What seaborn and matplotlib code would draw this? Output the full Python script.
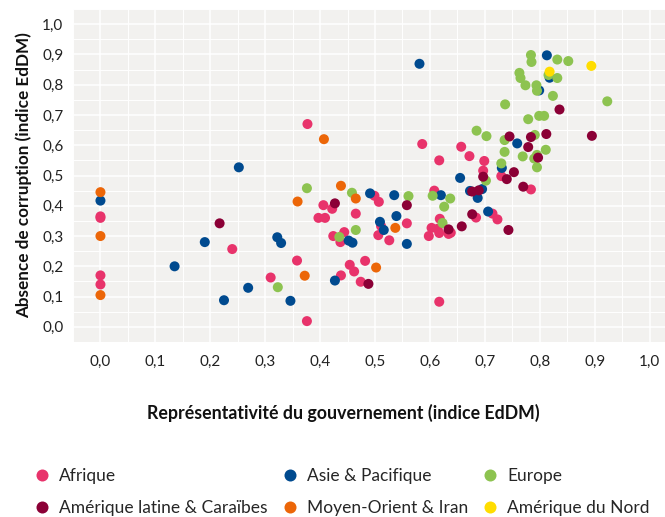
import pandas as pd
import matplotlib.pyplot as plt
import seaborn as sns
from matplotlib.ticker import MultipleLocator, FuncFormatter

# Representativeness (x) and absence of corruption (y) per region
afrique_x = [0.0, 0.0, 0.0, 0.0, 0.24, 0.31, 0.358, 0.376, 0.377, 0.397, 0.409, 0.406,
             0.422, 0.424, 0.437, 0.444, 0.438, 0.465, 0.454, 0.462, 0.474, 0.482, 0.499,
             0.507, 0.558, 0.511, 0.506, 0.526, 0.586, 0.617, 0.657, 0.672, 0.699, 0.697,
             0.608, 0.618, 0.603, 0.614, 0.617, 0.598, 0.634, 0.638, 0.684, 0.714, 0.723,
             0.617, 0.73, 0.784]
afrique_y = [0.36, 0.365, 0.17, 0.14, 0.257, 0.163, 0.219, 0.019, 0.67, 0.36, 0.36, 0.402,
             0.39, 0.30, 0.28, 0.313, 0.17, 0.374, 0.205, 0.183, 0.149, 0.218, 0.433,
             0.413, 0.342, 0.333, 0.303, 0.286, 0.604, 0.55, 0.595, 0.564, 0.548, 0.516,
             0.45, 0.357, 0.327, 0.324, 0.31, 0.30, 0.307, 0.311, 0.361, 0.374, 0.355,
             0.083, 0.498, 0.454]

asie_x = [0.0, 0.135, 0.19, 0.225, 0.252, 0.269, 0.322, 0.329, 0.346, 0.427, 0.452, 0.459,
          0.581, 0.491, 0.535, 0.539, 0.509, 0.516, 0.558, 0.62, 0.655, 0.673, 0.695,
          0.687, 0.706, 0.759, 0.731, 0.799, 0.813, 0.818]
asie_y = [0.417, 0.20, 0.28, 0.088, 0.527, 0.129, 0.296, 0.277, 0.086, 0.153, 0.285, 0.278,
          0.869, 0.441, 0.435, 0.366, 0.347, 0.32, 0.274, 0.435, 0.492, 0.449, 0.455,
          0.426, 0.381, 0.606, 0.525, 0.781, 0.897, 0.823]

europe_x = [0.323, 0.376, 0.435, 0.458, 0.465, 0.561, 0.605, 0.637, 0.626, 0.623, 0.702,
            0.685, 0.703, 0.736, 0.736, 0.73, 0.769, 0.791, 0.811, 0.795, 0.79, 0.795,
            0.737, 0.779, 0.799, 0.808, 0.824, 0.923, 0.763, 0.765, 0.774, 0.794, 0.795,
            0.784, 0.785, 0.832, 0.852, 0.816, 0.832]
europe_y = [0.131, 0.458, 0.297, 0.443, 0.32, 0.432, 0.433, 0.424, 0.397, 0.343, 0.483,
            0.648, 0.63, 0.617, 0.578, 0.54, 0.563, 0.634, 0.585, 0.568, 0.556, 0.527,
            0.735, 0.686, 0.697, 0.697, 0.763, 0.745, 0.839, 0.822, 0.798, 0.798, 0.78,
            0.898, 0.875, 0.883, 0.878, 0.832, 0.822]

latam_x = [0.217, 0.427, 0.488, 0.558, 0.697, 0.634, 0.658, 0.677, 0.689, 0.677, 0.743,
           0.745, 0.74, 0.753, 0.77, 0.779, 0.784, 0.812, 0.797, 0.895, 0.836]
latam_y = [0.342, 0.408, 0.142, 0.402, 0.496, 0.322, 0.332, 0.447, 0.451, 0.372, 0.32,
           0.629, 0.488, 0.511, 0.463, 0.594, 0.627, 0.637, 0.559, 0.631, 0.718]

moyen_orient_x = [0.0, 0.0, 0.0, 0.359, 0.372, 0.407, 0.438, 0.465, 0.502, 0.537]
moyen_orient_y = [0.445, 0.30, 0.105, 0.414, 0.169, 0.62, 0.466, 0.424, 0.196, 0.327]

am_nord_x = [0.894, 0.818]
am_nord_y = [0.862, 0.843]

regions = ['Afrique', 'Asie & Pacifique', 'Europe',
           'Amérique latine & Caraïbes', 'Moyen-Orient & Iran', 'Amérique du Nord']
colors = ['#E8336B', '#004A8F', '#8DC350', '#8B0036', '#EC6608', '#FFDD00']

series = [(afrique_x, afrique_y), (asie_x, asie_y), (europe_x, europe_y),
          (latam_x, latam_y), (moyen_orient_x, moyen_orient_y), (am_nord_x, am_nord_y)]
frames = [pd.DataFrame({'x': xs, 'y': ys, 'region': r}) for r, (xs, ys) in zip(regions, series)]
df = pd.concat(frames, ignore_index=True)

sns.set_theme(style="whitegrid")
plt.rcParams['font.family'] = ['Lato', 'DejaVu Sans']

fig = plt.figure(figsize=(6.65, 5.17), dpi=100)
ax = fig.add_axes([73 / 665, 1 - 342 / 517, 604 / 665, 333 / 517])
ax.set_facecolor('#F2F1EF')

sns.scatterplot(data=df, x='x', y='y', hue='region', hue_order=regions,
                palette=dict(zip(regions, colors)), s=52, edgecolor='none',
                linewidth=0, alpha=1, ax=ax)

ax.set_xlim(-0.05, 1.05)
ax.set_ylim(-0.05, 1.05)
fmt = FuncFormatter(lambda v, p: f"{v:.1f}".replace('.', ','))
for axis in (ax.xaxis, ax.yaxis):
    axis.set_major_locator(MultipleLocator(0.1))
    axis.set_minor_locator(MultipleLocator(0.05))
    axis.set_major_formatter(fmt)
ax.set_xticks([i / 10 for i in range(11)])
ax.set_yticks([i / 10 for i in range(11)])
ax.grid(which='major', color='white', linewidth=1.1)
ax.grid(which='minor', color='white', linewidth=0.7)
ax.set_axisbelow(True)
for s in ax.spines.values():
    s.set_visible(False)
ax.tick_params(which='major', length=3, width=0.8, color='#888888',
               labelsize=11, labelcolor='#222222', pad=4)
ax.tick_params(axis='x', pad=6)
ax.tick_params(which='minor', length=0)

ax.set_xlabel('')
ax.set_ylabel('Absence de corruption (indice EdDM)', fontsize=12.3, fontweight='bold',
              color='#111111', labelpad=7)
fig.text(343 / 665, 1 - 413 / 517, 'Représentativité du gouvernement (indice EdDM)',
         ha='center', va='center', fontsize=12.8, fontweight='bold', color='#111111')

handles, labels = ax.get_legend_handles_labels()
ax.get_legend().remove()
order = [0, 3, 1, 4, 2, 5]
leg = fig.legend([handles[i] for i in order], [labels[i] for i in order],
                 ncol=3, loc='upper left', bbox_to_anchor=(16 / 665, 1 - 452 / 517),
                 frameon=False, fontsize=12.5, handletextpad=0.4, columnspacing=0.65,
                 labelspacing=0.95, markerscale=1.2, handlelength=1.2)

plt.savefig('out.png', dpi=100)
